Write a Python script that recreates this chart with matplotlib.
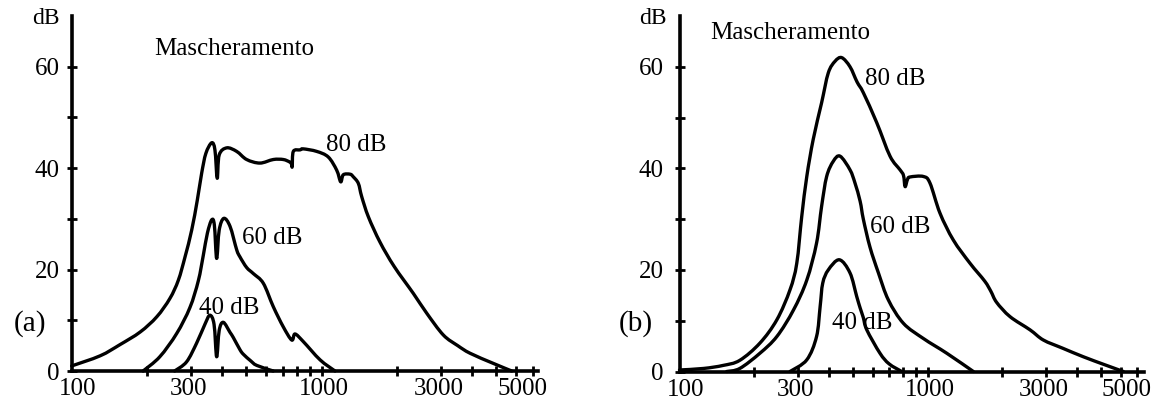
import matplotlib
matplotlib.use("Agg")
import numpy as np
import matplotlib.pyplot as plt
import matplotlib.ticker as mticker
from matplotlib.path import Path
from matplotlib.patches import PathPatch
from matplotlib.transforms import blended_transform_factory, ScaledTranslation

plt.rcParams['font.family'] = ['Liberation Serif', 'DejaVu Serif']

# ---------------- data (frequency in Hz, masking in dB) ----------------
# Panel (a)
a80_f = [100, 130, 156, 188, 219, 247, 267, 284, 302, 318, 331, 344, 363, 374, 382, 389,
         417, 457, 501, 566, 640, 702, 745, 757, 762, 770, 819, 844, 955, 1062, 1148,
         1191, 1220, 1300, 1337, 1401, 1445, 1537, 1711, 1950, 2325, 2630, 3065, 3500,
         3920, 4857, 5754]
a80_db = [1.0, 3.0, 5.2, 7.7, 10.7, 14.3, 17.9, 22.5, 27.8, 33.7, 39.0, 42.9, 45.0, 43.6,
          38.0, 42.6, 44.0, 43.3, 41.7, 41.0, 41.7, 41.7, 41.2, 40.8, 40.3, 43.3, 43.6,
          43.8, 43.3, 42.2, 39.6, 37.3, 38.7, 38.8, 38.3, 37.0, 34.4, 30.4, 25.4, 20.6,
          15.3, 11.4, 7.1, 5.0, 3.5, 1.5, 0.0]

a60_f = [193, 225, 263, 297, 321, 336, 349, 363, 372, 380, 389, 406, 430, 457, 471, 501,
         533, 584, 640, 702, 759, 782, 844, 985, 1130]
a60_db = [0.0, 2.8, 7.4, 12.5, 17.8, 22.8, 27.2, 29.8, 28.8, 22.2, 27.8, 30.1, 28.5, 23.9,
          22.5, 20.4, 19.2, 17.3, 12.7, 8.7, 6.1, 7.3, 5.8, 2.2, 0.0]

a40_f = [258, 288, 316, 341, 357, 371, 380, 389, 404, 430, 443, 471, 486, 520, 550, 640]
a40_db = [0.0, 1.8, 5.5, 9.2, 11.0, 9.2, 2.8, 8.0, 9.6, 7.6, 6.6, 4.2, 3.3, 2.0, 1.1, 0.0]

# Panel (b)
b80_f = [100, 125, 150, 175, 211, 247, 279, 297, 311, 326, 346, 374, 398, 424, 451, 487,
         520, 551, 624, 706, 775, 800, 812, 830, 850, 962, 1023, 1122, 1270, 1484, 1700,
         1800, 1900, 2151, 2590, 2930, 3500, 4249, 5200, 6160]
b80_db = [0.3, 0.6, 1.2, 2.2, 5.6, 10.2, 16.1, 21.3, 30.5, 38.4, 45.7, 52.9, 58.8, 61.1,
          61.8, 60.0, 57.0, 54.9, 49.0, 42.4, 39.7, 38.6, 36.4, 37.8, 38.3, 38.4, 37.1,
          31.2, 25.9, 21.3, 17.8, 15.8, 13.6, 10.8, 8.2, 6.2, 4.6, 2.9, 1.3, 0.0]

b60_f = [155, 175, 211, 247, 288, 326, 357, 374, 392, 417, 444, 487, 510, 535, 551, 586,
         634, 695, 799, 962, 1195, 1530]
b60_db = [0.0, 0.6, 3.6, 6.9, 12.1, 18.0, 25.3, 32.5, 38.4, 41.4, 42.4, 39.7, 37.1, 33.5,
          30.0, 24.5, 19.4, 14.1, 9.5, 6.5, 3.6, 0.0]

b40_f = [279, 326, 357, 369, 378, 398, 441, 487, 518, 535, 551, 569, 643, 700, 787]
b40_db = [0.0, 2.3, 6.9, 12.8, 17.4, 20.0, 22.0, 19.4, 14.8, 12.5, 10.6, 8.2, 3.6, 1.5, 0.0]

x_tick_pos = [200, 300, 400, 500, 600, 700, 800, 900, 1000,
              2000, 3000, 4000, 5000, 6000, 7000]
x_label_pos = [100, 300, 1000, 3000, 5000]
x_label_txt = ['100', '300', '1000', '3000', '5000']
y_tick_pos = [0, 10, 20, 30, 40, 50, 60]
y_tick_txt = ['0', '', '20', '', '40', '', '60']

curve_labels = ['80 dB', '60 dB', '40 dB']
title_text = 'Mascheramento'
panel_names = ['(a)', '(b)']

# ---------------- figure ----------------
W, H = 1155, 405
fig = plt.figure(figsize=(W / 100, H / 100), dpi=100)

axL = fig.add_axes([71.7 / W, (H - 371) / H, (538 - 71.7) / W, 355 / H])
axR = fig.add_axes([679.5 / W, (H - 371.5) / H, (1144 - 679.5) / W, 355.5 / H])

FS = 18
label_dx_px = [6, -2, 2, -2, 26]


def style(ax, xmax, ypad):
    ax.set_xscale('log')
    ax.set_xlim(100, xmax)
    ax.set_ylim(0, 70)
    for s in ['top', 'right']:
        ax.spines[s].set_visible(False)
    for s in ['left', 'bottom']:
        ax.spines[s].set_linewidth(2.6)
    ax.set_xticks(x_tick_pos, labels=[''] * len(x_tick_pos))
    ax.xaxis.set_minor_locator(mticker.NullLocator())
    ax.set_yticks(y_tick_pos, labels=y_tick_txt)
    ax.tick_params(axis='both', direction='inout', length=7, width=2.0, colors='black')
    ax.tick_params(axis='y', pad=ypad, labelsize=FS)
    ax.patch.set_alpha(0)
    trans = blended_transform_factory(ax.transData, ax.transAxes)
    for xp, txt, dx in zip(x_label_pos, x_label_txt, label_dx_px):
        ax.text(xp, -0.052, txt,
                transform=trans + ScaledTranslation(dx / 100, 0, fig.dpi_scale_trans),
                ha='center', va='center', fontsize=FS, clip_on=False)


style(axL, 7330, 5.0)
style(axR, 7460, 8.0)


def smooth_curve(ax, freqs, levels, lw=2.4):
    """Smooth line through the read points (Catmull-Rom as cubic Bezier in log-f space)."""
    u = np.log10(np.asarray(freqs, float))
    v = np.asarray(levels, float)
    P = np.column_stack([u, v])
    Pe = np.vstack([P[0], P, P[-1]])
    verts = [P[0]]
    codes = [Path.MOVETO]
    for i in range(len(P) - 1):
        p0, p1, p2, p3 = Pe[i], Pe[i + 1], Pe[i + 2], Pe[i + 3]
        c1 = p1 + (p2 - p0) / 6.0
        c2 = p2 - (p3 - p1) / 6.0
        verts += [c1, c2, p2]
        codes += [Path.CURVE4] * 3
    verts = np.array(verts)
    verts[:, 0] = 10 ** verts[:, 0]
    patch = PathPatch(Path(verts, codes), facecolor='none', edgecolor='black', lw=lw,
                      joinstyle='round', capstyle='round', clip_on=False)
    ax.add_patch(patch)


for f, d in [(a80_f, a80_db), (a60_f, a60_db), (a40_f, a40_db)]:
    smooth_curve(axL, f, d)
for f, d in [(b80_f, b80_db), (b60_f, b60_db), (b40_f, b40_db)]:
    smooth_curve(axR, f, d)

# curve labels
axL.text(1040, 44.6, curve_labels[0], fontsize=FS, ha='left', va='center')
axL.text(480, 26.2, curve_labels[1], fontsize=FS, ha='left', va='center')
axL.text(323, 12.4, curve_labels[2], fontsize=FS, ha='left', va='center')
axL.text(213, 63.5, title_text, fontsize=FS, ha='left', va='center')

axR.text(560, 57.5, curve_labels[0], fontsize=FS, ha='left', va='center')
axR.text(586, 28.5, curve_labels[1], fontsize=FS, ha='left', va='center')
axR.text(412, 9.6, curve_labels[2], fontsize=FS, ha='left', va='center')
axR.text(133, 66.6, title_text, fontsize=FS, ha='left', va='center')

# panel letters and unit labels
fig.text(30 / W, 1 - 324 / H, panel_names[0], fontsize=21, ha='center', va='center')
fig.text(636 / W, 1 - 324 / H, panel_names[1], fontsize=21, ha='center', va='center')
fig.text(46 / W, 1 - 18 / H, 'dB', fontsize=17, ha='center', va='center')
fig.text(653 / W, 1 - 18 / H, 'dB', fontsize=17, ha='center', va='center')

fig.savefig('out.png', dpi=100)
